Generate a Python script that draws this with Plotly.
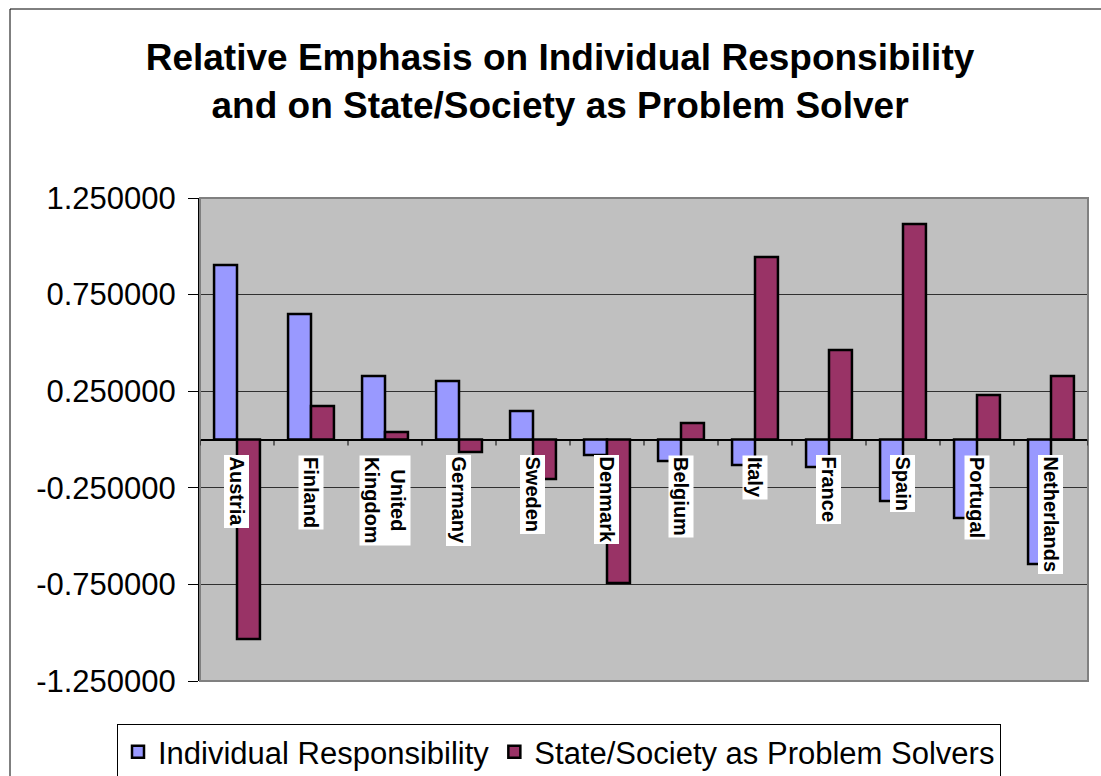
import plotly.graph_objects as go

# Country categories and the two standardized scores per country
countries = ["Austria", "Finland", "United Kingdom", "Germany", "Sweden", "Denmark",
             "Belgium", "Italy", "France", "Spain", "Portugal", "Netherlands"]
individual = [0.903, 0.650, 0.329, 0.303, 0.148, -0.080,
              -0.111, -0.132, -0.142, -0.318, -0.406, -0.644]
state_society = [-1.033, 0.173, 0.039, -0.065, -0.204, -0.743,
                 0.085, 0.945, 0.463, 1.115, 0.230, 0.329]

y_ticks = [-1.25, -0.75, -0.25, 0.25, 0.75, 1.25]
y_tick_text = [f"{v:.6f}" for v in y_ticks]

FONT = "Liberation Sans, Arial, sans-serif"
W, H = 1101, 776
ML, MR, MT, MB = 200, 13, 198, 95
pw, ph = W - ML - MR, H - MT - MB

fig = go.Figure()
fig.add_trace(go.Bar(
    x=countries, y=individual, name="Individual Responsibility",
    marker=dict(color="#9999FF", line=dict(color="black", width=2.5)),
))
fig.add_trace(go.Bar(
    x=countries, y=state_society, name="State/Society as Problem Solvers",
    marker=dict(color="#993366", line=dict(color="black", width=2.5)),
))

# Category labels sit just under the zero line, rotated and boxed in white
annotations = []
for c in countries:
    annotations.append(dict(
        x=c, y=0, xref="x", yref="y", text="<b>" + c.replace(" ", "<br>") + "</b>",
        textangle=90, showarrow=False, xanchor="center", yanchor="top",
        yshift=-15, bgcolor="white", borderpad=1,
        font=dict(family=FONT, size=20, color="black"), align="center",
    ))

shapes = []
# outer chart frame
shapes.append(dict(type="rect", xref="paper", yref="paper",
                   x0=(10 - ML) / pw, x1=(W + 20 - ML) / pw,
                   y0=-(H + 20 - MT - ph) / ph, y1=(ph + MT - 9) / ph,
                   line=dict(color="black", width=1), layer="below"))
# plot-area border
shapes.append(dict(type="rect", xref="paper", yref="paper", x0=0, x1=1, y0=0, y1=1,
                   line=dict(color="#808080", width=2), layer="above"))
# small category separator ticks along the zero line
for i in range(len(countries) + 1):
    shapes.append(dict(type="line", xref="x", yref="y", x0=i - 0.5, x1=i - 0.5,
                       ysizemode="pixel", yanchor=0, y0=0, y1=-6,
                       line=dict(color="black", width=1)))

fig.update_layout(
    width=W, height=H,
    margin=dict(l=ML, r=MR, t=MT, b=MB, autoexpand=False),
    paper_bgcolor="white", plot_bgcolor="#C0C0C0",
    font=dict(family=FONT, color="black"),
    title=dict(
        text="<b>Relative Emphasis on Individual Responsibility<br>and on State/Society as Problem Solver</b>",
        x=560 / W, xanchor="center", y=1 - 70 / H, yanchor="middle",
        font=dict(family=FONT, size=37, color="black"),
    ),
    barmode="group", bargap=0.38, bargroupgap=0,
    xaxis=dict(type="category", showticklabels=False, showgrid=False, ticks="",
               showline=False, range=[-0.5, len(countries) - 0.5]),
    yaxis=dict(range=[-1.25, 1.25], tickvals=y_ticks, ticktext=y_tick_text,
               showgrid=True, gridcolor="#303030", gridwidth=1,
               zeroline=True, zerolinecolor="black", zerolinewidth=2,
               showline=True, linecolor="black", linewidth=2,
               ticks="outside", ticklen=10, tickcolor="black", tickwidth=1,
               ticklabelstandoff=6,
               tickfont=dict(family=FONT, size=31, color="black")),
    legend=dict(orientation="h", xref="container", yref="container",
                x=559 / W, xanchor="center", y=1 - 724 / H, yanchor="top",
                bordercolor="black", borderwidth=1, bgcolor="white",
                font=dict(family=FONT, size=31, color="black"),
                itemwidth=30, tracegroupgap=0),
    annotations=annotations,
    shapes=shapes,
)

fig.write_html("out.html")
